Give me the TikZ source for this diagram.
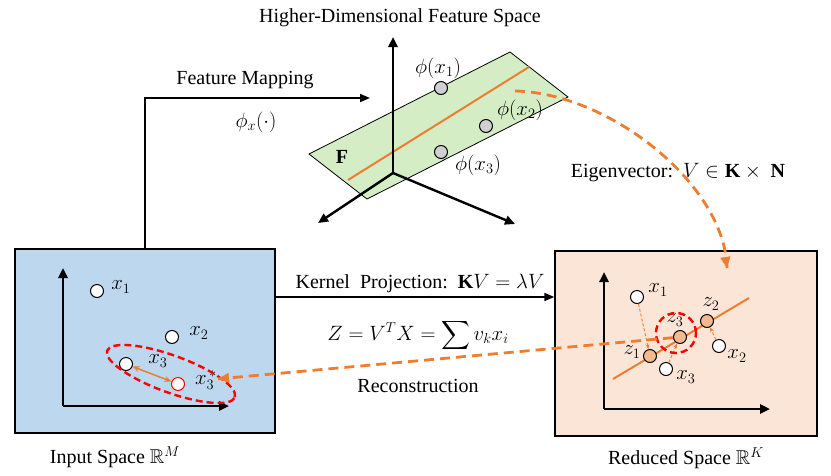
\documentclass[tikz,border=0pt]{standalone}
\usepackage{amsmath,amssymb}
\usepackage{fontspec}
\setmainfont{Liberation Serif}
\usetikzlibrary{arrows.meta, positioning, shapes.geometric, calc}
\definecolor{cblue}{HTML}{BDD7EE}
\definecolor{cpeach}{HTML}{FBE5D6}
\definecolor{cgreen}{HTML}{D5EDC5}
\definecolor{corange}{HTML}{ED7D31}
\definecolor{cred}{HTML}{FF0000}
\definecolor{cgrey}{HTML}{D0D0D0}
\definecolor{cdot}{HTML}{F4B98F}
\tikzset{
  every picture/.style={font=\fontsize{20}{24}\selectfont, x=1pt, y=-1pt},
  space/.style={draw=black, fill=#1, line width=1.4pt, inner sep=0pt},
  axis/.style={-{Triangle[length=10pt,width=9pt]}, line width=2.4pt},
  pt/.style={circle, draw=black, fill=#1, line width=1pt, minimum size=13pt, inner sep=0pt},
  pt/.default=white,
  link/.style={-{Triangle[length=10pt,width=8pt]}, line width=1.8pt},
  odash/.style={draw=corange, line width=2.8pt, dash pattern=on 10pt off 6pt},
  otip/.style={-{Triangle[length=11pt,width=10pt]}, color=corange},
  proj/.style={-{Stealth[length=5pt]}, draw=corange, line width=0.9pt, dash pattern=on 3pt off 2pt},
  rdash/.style={draw=cred, line width=2.4pt, dash pattern=on 7pt off 4pt},
  lbl/.style={inner sep=1pt},
}
\begin{document}
\begin{tikzpicture}
  \useasboundingbox (0,0) rectangle (831,475);
  % the two spaces
  \node[space=cblue, minimum width=260pt, minimum height=184pt] (inp) at (145,341) {};
  \node[space=cpeach, minimum width=262pt, minimum height=185pt] (red) at (686,343.5) {};
  \node (inplbl) at (115,457) {Input Space $\mathbb{R}^M$};
  \node (redlbl) at (686,458) {Reduced Space $\mathbb{R}^K$};

  % feature space
  \node (title) at (400,18) {Higher-Dimensional Feature Space};
  \coordinate (o) at (393,173);
  \filldraw[fill=cgreen, line width=0.8pt] (309,154) -- (510,52) -- (568,97) coordinate (pc) -- (367,199) -- cycle;
  \draw[corange, line width=2pt] (348,180) -- (529,67);
  \draw[axis] (o) -- (393,37);
  \draw[axis] (o) -- (318,223);
  \draw[axis] (o) -- (515,224);
  \node[font=\fontsize{20}{24}\selectfont\bfseries] (F) at (342,157) {F};
  \node[pt=cgrey] (g1) at (441,88) {};
  \node[pt=cgrey] (g2) at (486,126) {};
  \node[pt=cgrey] (g3) at (441,152) {};
  \node[lbl] at (438,68) {$\phi(x_1)$};
  \node[lbl] at (520,110) {$\phi(x_2)$};
  \node[lbl] at (478,165) {$\phi(x_3)$};

  % input space
  \draw[axis] (63,406) coordinate (io) -- (63,268);
  \draw[axis] (io) -- (229,406);
  \node[pt] (p1) at (97,291) {};
  \node[pt] (p2) at (172,337) {};
  \node[pt] (p3) at (126,364) {};
  \node[pt, draw=cred] (p3s) at (178,384) {};
  \node[lbl] at (121,287) {$x_1$};
  \node[lbl] at (199,333) {$x_2$};
  \node[lbl] at (158,361) {$x_3$};
  \node[lbl] (l3s) at (206,380) {$x_3^{\,*}$};
  \draw[{Stealth[length=7pt,width=6pt]}-{Stealth[length=7pt,width=6pt]}, corange, line width=1.5pt] (p3) -- (p3s);
  \node[ellipse, rdash, minimum width=136pt, minimum height=37pt, rotate=-20] (grp) at (171,374) {};

  % reduced space
  \draw[axis] (604,409) coordinate (ro) -- (604,272);
  \draw[axis] (ro) -- (770,409);
  \draw[corange, line width=2pt] (613,379) -- (749,298);
  \node[pt] (q1) at (637,297) {};
  \node[pt] (q2) at (719,346) {};
  \node[pt] (q3) at (666,369) {};
  \node[pt=cdot] (z1) at (650,356) {};
  \node[pt=cdot] (z3) at (680,337) {};
  \node[pt=cdot] (z2) at (707,321) {};
  \node[lbl] at (658,290) {$x_1$};
  \node[lbl] at (737,356) {$x_2$};
  \node[lbl] at (686,377) {$x_3$};
  \node[lbl] at (632,352) {$z_1$};
  \node[lbl] at (675,320) {$z_3$};
  \node[lbl] at (711,304) {$z_2$};
  \draw[proj] (q1) -- (z1);
  \draw[proj] (q3) -- (z3);
  \draw[proj] (q2) -- (z2);
  \node[circle, rdash, minimum size=40pt] (sel) at (676,333) {};

  % connectors
  \coordinate (fm) at (370,98);
  \draw[link] (inp.north) |- (fm);
  \node at (245,80) {Feature Mapping};
  \node at (256,122) {$\phi_x(\cdot)$};
  \coordinate (kp) at (0,297);
  \draw[link] (inp.east |- kp) -- (red.west |- kp);
  \node at (420,283) {Kernel\ \ Projection:\ \ $\mathbf{K}V=\lambda V$};
  \node at (418,335) {$Z=V^TX=\displaystyle\sum v_kx_i$};
  \node at (418,386) {Reconstruction};
  \coordinate (ev) at (515,91);
  \coordinate (evend) at (727,268);
  \draw[odash] (ev) .. controls (610,93) and (725,185) .. (evend);
  \draw[otip] ($(evend)+(-0.3,-2)$) -- (evend);
  \node at (678,173) {Eigenvector:\ \ $V\in\mathbf{K}\times\ \mathbf{N}$};
  \draw[odash] (z3) -- (l3s);
  \draw[otip] ($(z3)!0.97!(l3s)$) -- (l3s);
\end{tikzpicture}
\end{document}
